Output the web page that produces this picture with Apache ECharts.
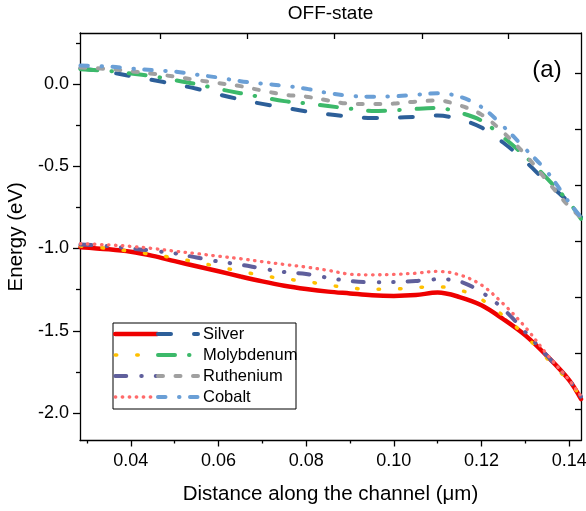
<!DOCTYPE html>
<html><head><meta charset="utf-8">
<script src="https://cdn.jsdelivr.net/npm/echarts@6/dist/echarts.min.js"></script>
<style>html,body{margin:0;padding:0;background:#fff}#c{width:586px;height:511px}</style>
</head><body><div id="c"></div>
<script>
// ---- data ----
const distance = [0.0285,0.035,0.04,0.045,0.05,0.055,0.06,0.065,0.07,0.075,0.08,0.085,0.09,0.095,0.10,0.105,0.11,0.115,0.12,0.125,0.13,0.135,0.14,0.1427];
const silverVB = [-0.992,-1.005,-1.02,-1.045,-1.077,-1.108,-1.138,-1.17,-1.2,-1.226,-1.246,-1.262,-1.273,-1.284,-1.288,-1.283,-1.268,-1.295,-1.345,-1.43,-1.528,-1.655,-1.80,-1.915];
const silverCB = [0.095,0.072,0.048,0.024,-0.001,-0.029,-0.063,-0.094,-0.121,-0.144,-0.166,-0.184,-0.198,-0.207,-0.205,-0.199,-0.192,-0.215,-0.265,-0.357,-0.47,-0.60,-0.72,-0.81];
const molyVB = [-0.985,-1.0,-1.018,-1.036,-1.058,-1.083,-1.111,-1.139,-1.164,-1.184,-1.20,-1.222,-1.24,-1.248,-1.247,-1.237,-1.233,-1.252,-1.31,-1.409,-1.53,-1.67,-1.81,-1.9];
const molyCB = [0.09,0.079,0.064,0.047,0.024,-0.001,-0.03,-0.056,-0.081,-0.104,-0.118,-0.134,-0.15,-0.164,-0.16,-0.151,-0.146,-0.174,-0.223,-0.325,-0.44,-0.575,-0.72,-0.82];
const rutheVB = [-0.976,-0.986,-1.0,-1.014,-1.029,-1.055,-1.079,-1.098,-1.122,-1.143,-1.155,-1.178,-1.198,-1.205,-1.204,-1.197,-1.187,-1.2,-1.266,-1.368,-1.508,-1.653,-1.80,-1.9];
const rutheCB = [0.1,0.091,0.077,0.062,0.045,0.024,0.005,-0.013,-0.04,-0.065,-0.077,-0.1,-0.12,-0.122,-0.119,-0.107,-0.1,-0.13,-0.186,-0.295,-0.43,-0.59,-0.745,-0.81];
const cobaltVB = [-0.971,-0.978,-0.987,-1.0,-1.016,-1.031,-1.047,-1.062,-1.08,-1.097,-1.113,-1.133,-1.156,-1.16,-1.157,-1.15,-1.139,-1.16,-1.222,-1.337,-1.478,-1.645,-1.80,-1.896];
const cobaltCB = [0.112,0.106,0.094,0.084,0.075,0.057,0.039,0.017,0.002,-0.011,-0.029,-0.055,-0.072,-0.077,-0.075,-0.066,-0.056,-0.077,-0.14,-0.258,-0.394,-0.535,-0.72,-0.81];
const materials = ['Silver','Molybdenum','Ruthenium','Cobalt'];
const xTickValues = [0.04,0.06,0.08,0.10,0.12,0.14];
const xMinorValues = [0.03,0.05,0.07,0.09,0.11,0.13];
const xTopTickValues = [0.0466,0.0665,0.0865,0.1064,0.1261];
const yTickValues = [-2.0,-1.5,-1.0,-0.5,0.0];
const yMinorValues = [-1.75,-1.25,-0.75,-0.25,0.25];
const yRightTickValues = [0.065,-0.275,-0.616,-0.957,-1.298,-1.638,-1.977];

// ---- styling ----
const FONT = 'Liberation Sans, Arial, Helvetica, sans-serif';
const XMIN = 0.0284, XMAX = 0.1427, YMIN = -2.167, YMAX = 0.31;
const vbStyles = [
  {color:'#ee0000', width:4.5, type:'solid'},
  {color:'#ffc000', width:3.5, type:[1.5,20]},
  {color:'#5f5f9c', width:4, type:[11,15,0.5,14,0.5,14]},
  {color:'#ff6a6a', width:3.3, type:[0.5,6.5]}
];
const cbStyles = [
  {color:'#2d5f99', width:4, type:[13,23]},
  {color:'#3cb96a', width:4, type:[17,14,0.5,17]},
  {color:'#a0a0a0', width:4, type:[5,12.5]},
  {color:'#6a9fd6', width:4, type:[7.5,13.5,0.5,10.5]}
];
const vbData = [silverVB, molyVB, rutheVB, cobaltVB];
const cbData = [silverCB, molyCB, rutheCB, cobaltCB];

const series = [];
materials.forEach((m, i) => {
  series.push({name: m + ' VB', type:'line', symbol:'none', smooth:0.35, xAxisIndex:0, yAxisIndex:0,
    data: distance.map((x, k) => [x, vbData[i][k]]),
    lineStyle: Object.assign({cap:'round', join:'round'}, vbStyles[i]), itemStyle:{color: vbStyles[i].color}});
  series.push({name: m, type:'line', symbol:'none', smooth:0.35, xAxisIndex:0, yAxisIndex:0,
    data: distance.map((x, k) => [x, cbData[i][k]]),
    lineStyle: Object.assign({cap:'round', join:'round'}, cbStyles[i]), itemStyle:{color: cbStyles[i].color}});
});

const axisLineStyle = {color:'#000', width:1.3};
const tickStyle = {color:'#000', width:1.3};

const legendCommon = {
  orient:'vertical', padding:0, itemGap:0, itemHeight:21, top:323.5,
  selectedMode:false, itemStyle:{opacity:0, borderWidth:0},
  textStyle:{fontFamily:FONT, fontSize:16.5, color:'#000', lineHeight:21}
};

const option = {
  backgroundColor:'#fff',
  animation:false,
  grid:{left:80, right:5, top:33, bottom:70.5, containLabel:false, outerBoundsMode:'none'},
  legend:[
    Object.assign({}, legendCommon, {left:113, itemWidth:42, formatter:() => ' ',
      data: materials.map((m, i) => ({name: m + ' VB', lineStyle:{width: vbStyles[i].width}}))}),
    Object.assign({}, legendCommon, {left:156, itemWidth:40,
      data: materials.map((m, i) => ({name: m, lineStyle:{width: cbStyles[i].width}}))})
  ],
  xAxis:[
    {type:'value', min:XMIN, max:XMAX, position:'bottom',
     axisLine:{onZero:false, lineStyle:axisLineStyle},
     axisTick:{customValues:xTickValues, length:6, lineStyle:tickStyle},
     axisLabel:{customValues:xTickValues, formatter:v => v.toFixed(2), color:'#000', fontSize:18, margin:12, fontFamily:FONT},
     splitLine:{show:false},
     name:'Distance along the channel (\u03bcm)', nameLocation:'middle', nameGap:43,
     nameTextStyle:{fontFamily:FONT, fontSize:20.5, color:'#000'}},
    {type:'value', min:XMIN, max:XMAX, position:'bottom',
     axisLine:{show:false, onZero:false},
     axisTick:{customValues:xMinorValues, length:3, lineStyle:tickStyle},
     axisLabel:{show:false}, splitLine:{show:false}},
    {type:'value', min:XMIN, max:XMAX, position:'top',
     axisLine:{onZero:false, lineStyle:axisLineStyle},
     axisTick:{inside:true, customValues:xTopTickValues, length:6, lineStyle:tickStyle},
     axisLabel:{show:false}, splitLine:{show:false}}
  ],
  yAxis:[
    {type:'value', min:YMIN, max:YMAX, position:'left',
     axisLine:{show:true, onZero:false, lineStyle:axisLineStyle},
     axisTick:{show:true, customValues:yTickValues, length:7, lineStyle:tickStyle},
     axisLabel:{customValues:yTickValues, formatter:v => v.toFixed(1), color:'#000', fontSize:18, margin:11, fontFamily:FONT},
     splitLine:{show:false},
     name:'Energy (eV)', nameLocation:'middle', nameGap:48,
     nameTextStyle:{fontFamily:FONT, fontSize:20.5, color:'#000'}},
    {type:'value', min:YMIN, max:YMAX, position:'left',
     axisLine:{show:false, onZero:false},
     axisTick:{show:true, customValues:yMinorValues, length:4, lineStyle:tickStyle},
     axisLabel:{show:false}, splitLine:{show:false}},
    {type:'value', min:YMIN, max:YMAX, position:'right',
     axisLine:{show:true, onZero:false, lineStyle:axisLineStyle},
     axisTick:{show:true, inside:true, customValues:yRightTickValues, length:6, lineStyle:tickStyle},
     axisLabel:{show:false}, splitLine:{show:false}}
  ],
  graphic:[
    {type:'text', x:330.5, y:14, style:{text:'OFF-state', fill:'#000', font:'19px ' + FONT, textAlign:'center', textVerticalAlign:'middle'}},
    {type:'text', x:547, y:70, style:{text:'(a)', fill:'#000', font:'24px ' + FONT, textAlign:'center', textVerticalAlign:'middle'}},
    {type:'rect', shape:{x:113, y:323, width:183, height:86}, style:{fill:'none', stroke:'#000', lineWidth:1}, z:-1}
  ],
  series: series
};
const chart = echarts.init(document.getElementById('c'));
chart.setOption(option);
</script>
</body></html>
